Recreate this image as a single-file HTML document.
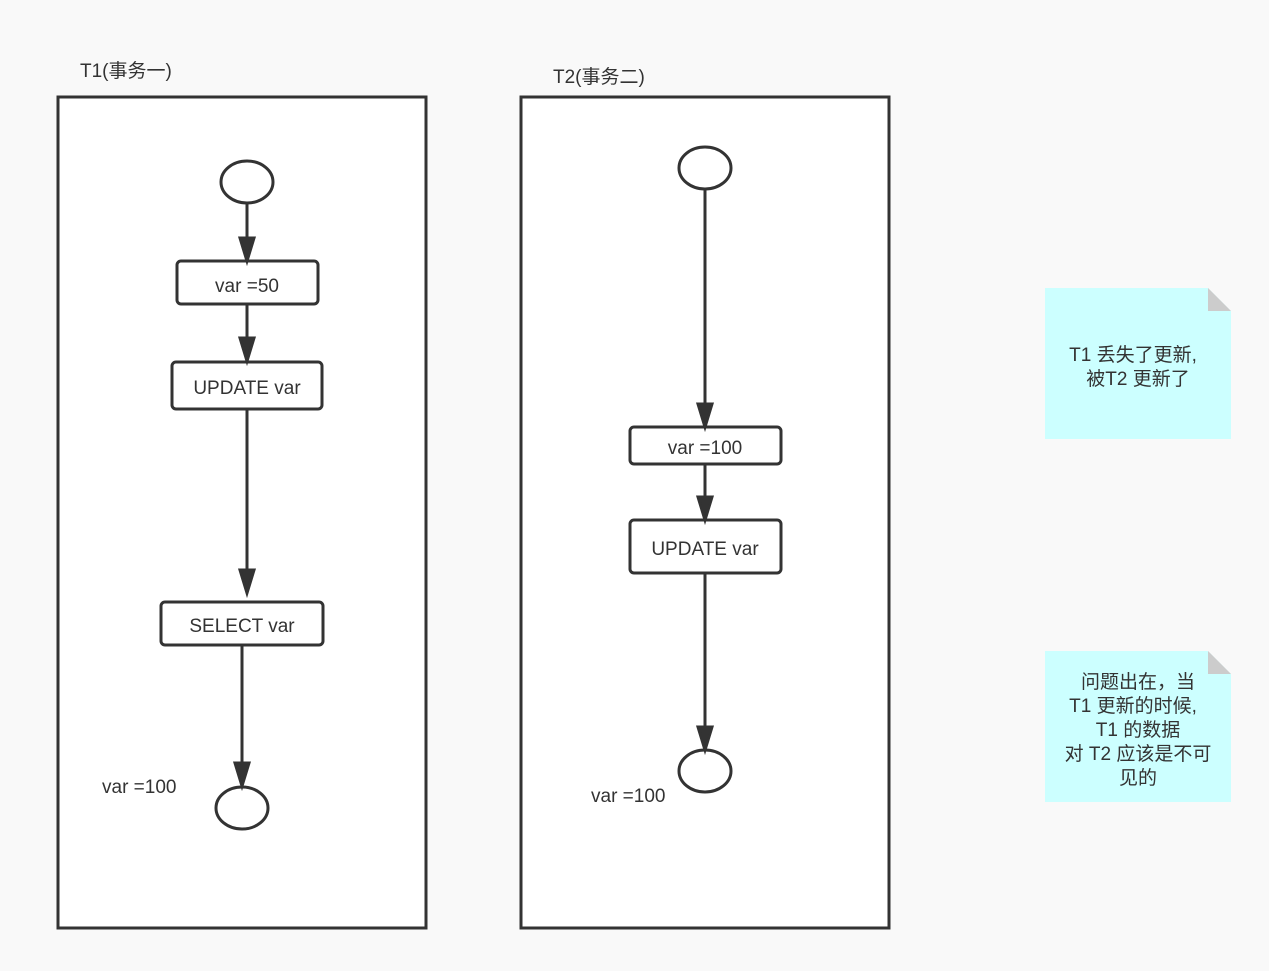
<!DOCTYPE html>
<html><head><meta charset="utf-8"><style>
body{margin:0;background:#f9f9f9;}
svg text{font-family:"Liberation Sans","Noto Sans CJK SC",sans-serif;fill:#333;font-size:19px;}
</style></head><body>
<svg width="1269" height="966" xmlns="http://www.w3.org/2000/svg">
<defs><marker id="a" markerWidth="10" markerHeight="12" refX="8" refY="6" orient="auto" markerUnits="userSpaceOnUse"><path d="M0,0 L0,0 L16,6 L0,12 Z" fill="#333" transform="scale(0.6,1)"/></marker></defs>
<rect x="0" y="0" width="1269" height="966" fill="#f9f9f9"/>
<g stroke="#333" stroke-width="3" fill="#fff">
<rect x="58" y="97" width="368" height="831"/>
<rect x="521" y="97" width="368" height="831"/>
<ellipse cx="247" cy="182" rx="26" ry="21"/>
<rect x="177" y="261" width="141" height="43" rx="4"/>
<rect x="172" y="362" width="150" height="47" rx="4"/>
<rect x="161" y="602" width="162" height="43" rx="4"/>
<ellipse cx="242" cy="808" rx="26" ry="21"/>
<ellipse cx="705" cy="168" rx="26" ry="21"/>
<rect x="630" y="427" width="151" height="37" rx="4"/>
<rect x="630" y="520" width="151" height="53" rx="4"/>
<ellipse cx="705" cy="771" rx="26" ry="21"/>
</g>
<g stroke="#333" stroke-width="3" fill="#333">
<line x1="247" y1="203" x2="247" y2="244"/><path d="M240,238 L254,238 L247,261 Z"/>
<line x1="247" y1="304" x2="247" y2="344"/><path d="M240,338 L254,338 L247,361 Z"/>
<line x1="247" y1="409" x2="247" y2="576"/><path d="M240,570 L254,570 L247,593 Z"/>
<line x1="242" y1="645" x2="242" y2="768"/><path d="M235,763 L249,763 L242,786 Z"/>
<line x1="705" y1="189" x2="705" y2="410"/><path d="M698,404 L712,404 L705,427 Z"/>
<line x1="705" y1="464" x2="705" y2="503"/><path d="M698,497 L712,497 L705,520 Z"/>
<line x1="705" y1="573" x2="705" y2="733"/><path d="M698,727 L712,727 L705,750 Z"/>
</g>
<g stroke-width="0">
<path d="M1045,288 L1208,288 L1231,311 L1231,439 L1045,439 Z" fill="#ccffff"/>
<path d="M1208,288 L1231,311 L1208,311 Z" fill="#ccc"/>
<path d="M1045,651 L1208,651 L1231,674 L1231,802 L1045,802 Z" fill="#ccffff"/>
<path d="M1208,651 L1231,674 L1208,674 Z" fill="#ccc"/>
</g>
<text x="80" y="77">T1(事务一)</text>
<text x="553" y="83">T2(事务二)</text>
<g text-anchor="middle">
<text x="247" y="292">var =50</text>
<text x="247" y="394">UPDATE var</text>
<text x="242" y="632">SELECT var</text>
<text x="705" y="454">var =100</text>
<text x="705" y="555">UPDATE var</text>
<text x="1133" y="361">T1 丢失了更新,</text>
<text x="1138" y="385">被T2 更新了</text>
<text x="1138" y="688">问题出在，当</text>
<text x="1133" y="712">T1 更新的时候,</text>
<text x="1138" y="736">T1 的数据</text>
<text x="1138" y="760">对 T2 应该是不可</text>
<text x="1138" y="784">见的</text>
</g>
<text x="102" y="793">var =100</text>
<text x="591" y="802">var =100</text>
</svg>
</body></html>
